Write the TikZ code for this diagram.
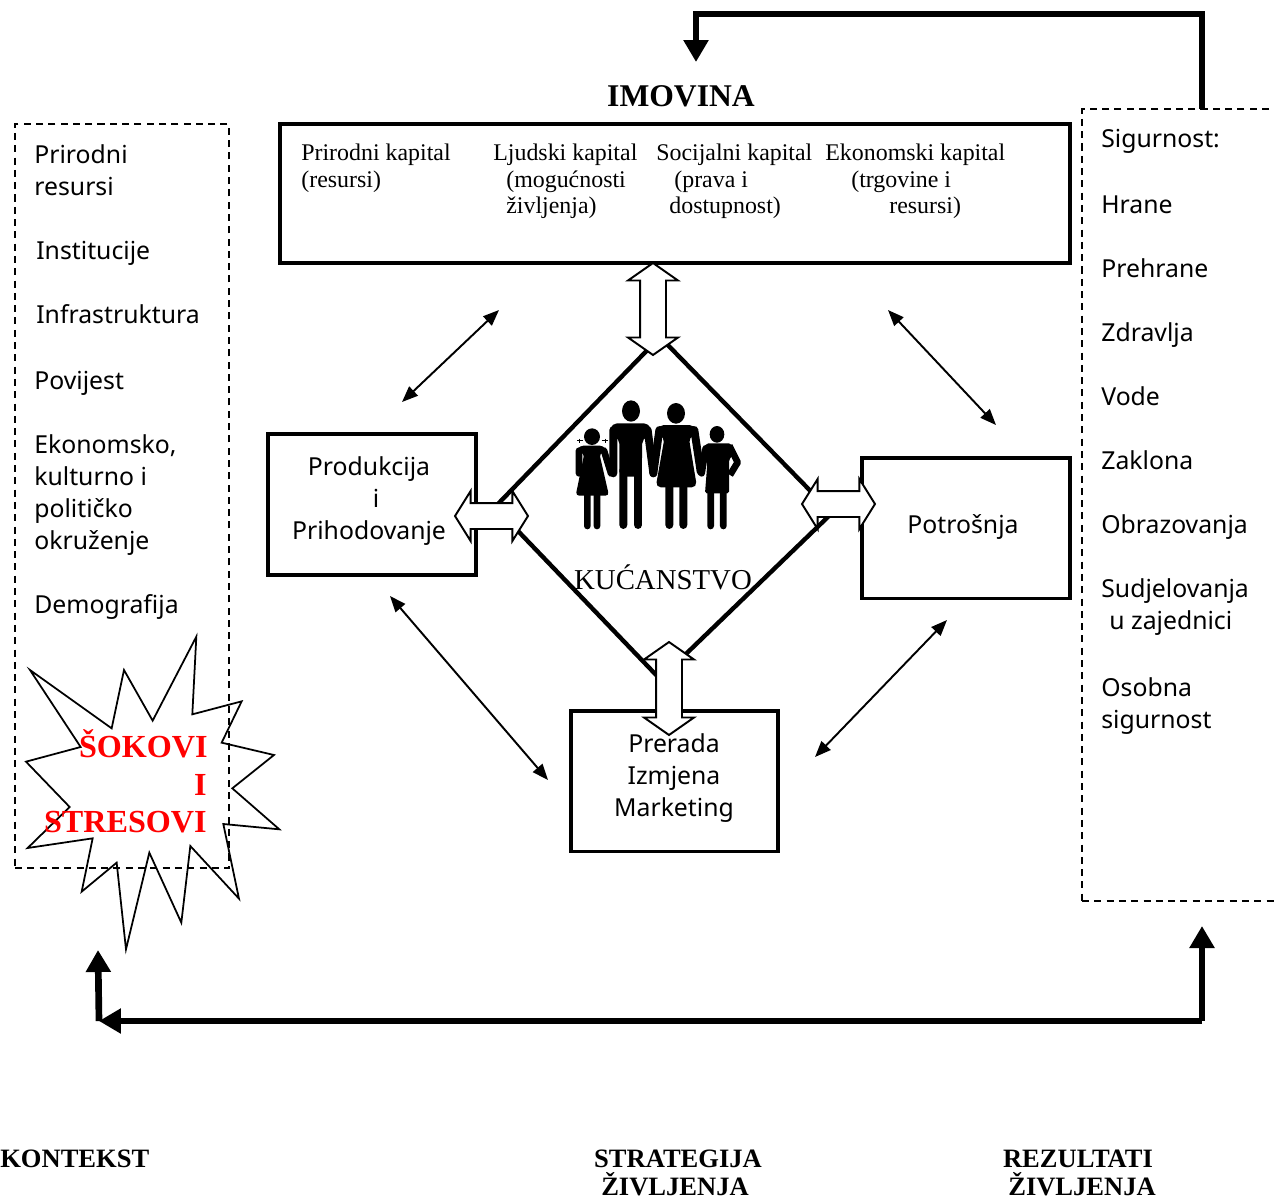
\documentclass[tikz,border=0pt]{standalone}
\usepackage{fontspec}
\setmainfont{Liberation Serif}
\newfontfamily\tahoma{Noto Sans}
\usetikzlibrary{arrows.meta, shapes.arrows}

\tikzset{
	solidbox/.style = {draw, line width = 2.27pt, minimum width = 4.16cm, minimum height = 2.82cm, inner sep = 0},
	dashbox/.style = {draw, line width = 1.2pt, dash pattern = on 4pt off 3pt, inner sep = 0},
	sanstext/.style = {font = \tahoma\fontsize{14.1}{18}\selectfont, anchor = base west, inner sep = 0},
	sansmid/.style = {sanstext, anchor = base},
	serifleft/.style = {font = \fontsize{13.6}{15}\selectfont, anchor = base west, inner sep = 0},
	boldmid/.style = {font = \bfseries\fontsize{15.1}{17}\selectfont, anchor = base, inner sep = 0},
	redtext/.style = {font = \bfseries\fontsize{18.3}{20}\selectfont, text = red, anchor = base east, inner sep = 0},
	hollow/.style = {draw, fill = white, line width = 1.1pt, double arrow, inner sep = 0.24cm, minimum width = 0.96cm, double arrow head extend = 0.24cm},
	thinarrow/.style = {line width = 1.1pt, {Triangle[length = 0.32cm, width = 0.25cm]}-{Triangle[length = 0.32cm, width = 0.25cm]}},
	thickarrow/.style = {line width = 3.8pt, -{Triangle[length = 0.44cm, width = 0.48cm]}},
	limb/.style = {line width = 4.5pt, line cap = round}
}

\begin{document}
\begin{tikzpicture}[x = 0.02cm, y = -0.02cm]
	\useasboundingbox (0,0) rectangle (1274,1201);

	% context box
	\node [dashbox, minimum width = 4.28cm, minimum height = 14.88cm] (kontekstbox) at (122,496) {};
	\node [sanstext] (prirodni) at (34,163) {Prirodni};
	\node [sanstext] (resursi) at (34,195) {resursi};
	\node [sanstext] (institucije) at (36,259) {Institucije};
	\node [sanstext] (infra) at (36,323) {Infrastruktura};
	\node [sanstext] (povijest) at (34,389) {Povijest};
	\node [sanstext] (ekonomsko) at (34,453) {Ekonomsko,};
	\node [sanstext] (kulturno) at (34,485) {kulturno i};
	\node [sanstext] (politicko) at (34,517) {političko};
	\node [sanstext] (okruzenje) at (34,549) {okruženje};
	\node [sanstext] (demografija) at (34,613) {Demografija};

	% burst
	\begin{scope}[shift = {(0,620)}, x = 0.00667cm, y = -0.00667cm]
		\draw [line width = 1pt] (90,150) -- (335,325) -- (372,150) -- (458,302) -- (589,50) -- (577,283) -- (725,244) -- (665,368) -- (822,405) -- (697,505) -- (838,628) -- (670,612) -- (717,836) -- (571,678) -- (544,908) -- (448,698) -- (378,988) -- (350,728) -- (245,815) -- (278,655) -- (83,684) -- (209,561) -- (78,425) -- (242,381) -- cycle;
	\end{scope}
	\node [redtext] (sokovi) at (208,757) {ŠOKOVI};
	\node [redtext] (sokoviI) at (207,795) {I};
	\node [redtext] (stresovi) at (207,832) {STRESOVI};

	% results box
	\node [dashbox, minimum width = 4.16cm, minimum height = 15.84cm] (rezultatibox) at (1186,505) {};
	\node [sanstext] (sigurnost) at (1101,147) {Sigurnost:};
	\node [sanstext] (hrane) at (1101,213) {Hrane};
	\node [sanstext] (prehrane) at (1101,277) {Prehrane};
	\node [sanstext] (zdravlja) at (1101,341) {Zdravlja};
	\node [sanstext] (vode) at (1101,405) {Vode};
	\node [sanstext] (zaklona) at (1101,469) {Zaklona};
	\node [sanstext] (obrazovanja) at (1101,533) {Obrazovanja};
	\node [sanstext] (sudjelovanja) at (1101,597) {Sudjelovanja};
	\node [sanstext] (zajednici) at (1109,629) {u zajednici};
	\node [sanstext] (osobna) at (1101,696) {Osobna};
	\node [sanstext] (osobnasig) at (1101,728) {sigurnost};

	% assets
	\node [boldmid, font = \bfseries\fontsize{18}{20}\selectfont] (imovina) at (681,106) {IMOVINA};
	\node [solidbox, minimum width = 15.8cm, minimum height = 2.78cm] (imovinabox) at (675,193.5) {};
	\node [serifleft] (k1a) at (301,160) {Prirodni kapital};
	\node [serifleft] (k1b) at (301,187) {(resursi)};
	\node [serifleft] (k2a) at (493,160) {Ljudski kapital};
	\node [serifleft] (k2b) at (506,187) {(mogućnosti};
	\node [serifleft] (k2c) at (506,213) {življenja)};
	\node [serifleft] (k3a) at (656,160) {Socijalni kapital};
	\node [serifleft] (k3b) at (674,187) {(prava i};
	\node [serifleft] (k3c) at (669,213) {dostupnost)};
	\node [serifleft] (k4a) at (825,160) {Ekonomski kapital};
	\node [serifleft] (k4b) at (851,187) {(trgovine i};
	\node [serifleft] (k4c) at (889,213) {resursi)};

	% household
	\coordinate (gore) at (660,337);
	\coordinate (lijevo) at (495,507);
	\coordinate (dolje) at (660,679);
	\coordinate (desno) at (832,513);
	\draw [line width = 2.5pt] (gore) -- (desno) -- (dolje) -- (lijevo) -- cycle;
	\node [serifleft, font = \fontsize{16.4}{18}\selectfont, anchor = base] (kucanstvo) at (663,589) {KUĆANSTVO};

	\begin{scope}[shift = {(560,380)}, x = 0.00667cm, y = -0.00667cm]
		% girl
		\fill (96,170) circle [x radius = 24, y radius = 25];
		\draw [line width = 0.5pt] (52,182) -- (70,182) (125,182) -- (143,182) (58,176) -- (58,188) (137,176) -- (137,188);
		\fill [rounded corners = 2pt] (47,215) -- (60,197) -- (130,197) -- (142,215) -- (118,220) -- (147,347) -- (47,347) -- (73,220) -- cycle;
		\draw [limb, line width = 3.8pt] (57,212) -- (57,280) (132,212) -- (153,280) (82,345) -- (82,438) (111,345) -- (111,438);
		% man
		\fill (213,93) circle [x radius = 27, y radius = 32];
		\fill [rounded corners = 3pt] (148,165) -- (155,130) -- (268,130) -- (276,165) -- (247,175) -- (245,290) -- (178,290) -- (178,175) -- cycle;
		\draw [limb] (160,150) -- (160,280) (263,150) -- (280,280) (190,270) -- (190,435) (234,270) -- (234,435);
		% woman
		\fill (348,100) circle [x radius = 27, y radius = 31];
		\fill [rounded corners = 3pt] (285,165) -- (296,135) -- (404,135) -- (416,165) -- (386,170) -- (411,322) -- (287,322) -- (314,170) -- cycle;
		\draw [limb] (298,150) -- (280,280) (403,150) -- (422,275) (328,315) -- (328,435) (370,315) -- (370,435);
		% boy
		\fill (471,163) circle [x radius = 22, y radius = 25];
		\fill [rounded corners = 1pt] (430,205) -- (440,190) -- (512,190) -- (525,215) -- (507,240) -- (507,340) -- (435,340) -- (442,250) -- cycle;
		\draw [limb, line width = 3.8pt] (437,205) -- (425,280) (452,335) -- (452,438) (490,335) -- (490,438);
		\draw [line width = 3.8pt, line join = round] (508,197) -- (533,247) -- (510,285);
	\end{scope}

	% activities
	\node [solidbox] (produkcija) at (372,504.5) {};
	\node [solidbox] (potrosnja) at (966,528) {};
	\node [solidbox, minimum width = 4.14cm] (prerada) at (674.5,781) {};

	% hollow arrows
	\node [hollow, rotate = 90, minimum height = 1.84cm, double arrow tip angle = 110] (pimovina) at (653,309) {};
	\node [hollow, minimum height = 1.46cm, double arrow tip angle = 116] (pprodukcija) at (491.5,516) {};
	\node [hollow, minimum height = 1.46cm, double arrow tip angle = 116] (ppotrosnja) at (838.5,504) {};
	\node [hollow, rotate = 90, minimum height = 1.86cm, double arrow tip angle = 110] (pprerada) at (669,688.5) {};

	\node [sansmid] (produkcijaA) at (369,475) {Produkcija};
	\node [sansmid] (produkcijaB) at (376,507) {i};
	\node [sansmid] (produkcijaC) at (369,539) {Prihodovanje};
	\node [sansmid] (potrosnjaA) at (963,533) {Potrošnja};
	\node [sansmid] (prerada1) at (674,752) {Prerada};
	\node [sansmid] (prerada2) at (674,784) {Izmjena};
	\node [sansmid] (prerada3) at (674,816) {Marketing};

	% thin arrows
	\coordinate (t1a) at (499,310);
	\coordinate (t1b) at (402,402);
	\coordinate (t2a) at (888,310);
	\coordinate (t2b) at (996,425);
	\coordinate (t3a) at (390,596);
	\coordinate (t3b) at (548,780);
	\coordinate (t4a) at (947,620);
	\coordinate (t4b) at (815,757);
	\draw [thinarrow] (t1a) -- (t1b);
	\draw [thinarrow] (t2a) -- (t2b);
	\draw [thinarrow] (t3a) -- (t3b);
	\draw [thinarrow] (t4a) -- (t4b);

	% thick arrows
	\coordinate (izlaz) at (1202,109);
	\coordinate (ulaz) at (696,62);
	\coordinate (ugaodesno) at (1202,1021);
	\coordinate (ugaolijevo) at (99,1021);
	\coordinate (vrhdesno) at (1202,926);
	\coordinate (vrhlijevo) at (98,950);
	\draw [thickarrow] (izlaz) -- (1202,14) -- (696,14) -- (ulaz);
	\draw [thickarrow] (ugaodesno) -- (vrhdesno);
	\draw [thickarrow] (ugaodesno) -- (ugaolijevo);
	\draw [thickarrow] (ugaolijevo) -- (vrhlijevo);

	% column titles
	\node [boldmid, anchor = base west] (kontekst) at (0,1167) {KONTEKST};
	\node [boldmid] (strategija) at (678,1167) {STRATEGIJA};
	\node [boldmid] (zivljenja) at (675,1195) {ŽIVLJENJA};
	\node [boldmid] (rezultati) at (1078,1167) {REZULTATI};
	\node [boldmid] (zivljenjaB) at (1082,1195) {ŽIVLJENJA};
\end{tikzpicture}
\end{document}
